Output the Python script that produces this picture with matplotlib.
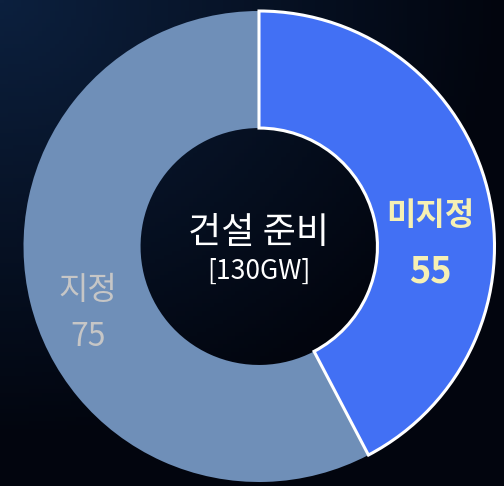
import numpy as np
import matplotlib
matplotlib.use("Agg")
import matplotlib.pyplot as plt

plt.rcParams['font.family'] = ['Noto Sans CJK KR', 'DejaVu Sans']

# data
labels = ["미지정", "지정"]
values = [55, 75]
colors = ["#4270F4", "#6F8FB8"]
label_colors = ["#F6F0B4", "#C6C6C6"]
center_title = "건설 준비"
center_sub = "[130GW]"

fig = plt.figure(figsize=(5.04, 4.86), dpi=100)
ax = fig.add_axes([0, 0, 1, 1])

# dark space-like background gradient
yy, xx = np.mgrid[0:1:120j, 0:1:120j]
d = np.sqrt((xx * 1.0) ** 2 + (yy * 1.1) ** 2)
t = np.clip(d / 1.0, 0, 1)
c0 = np.array([0x0c, 0x20, 0x3e]) / 255.
c1 = np.array([0x02, 0x05, 0x0e]) / 255.
bg = c0[None, None, :] * (1 - t[..., None]) + c1[None, None, :] * t[..., None]
ax.imshow(bg, extent=(0, 504, 0, 486), origin="upper", zorder=0, aspect="auto")

cx, cy, R = 259, 239.5, 235.5
wedges, _ = ax.pie(values, colors=colors, startangle=90, counterclock=False,
                   center=(cx, cy), radius=R,
                   wedgeprops=dict(width=R * 0.497, linewidth=0))
wedges[0].set_edgecolor("white")
wedges[0].set_linewidth(2.2)
wedges[0].set_zorder(3)
wedges[1].set_zorder(2)

ax.set_xlim(0, 504)
ax.set_ylim(0, 486)
ax.set_aspect("auto")
ax.axis("off")

# center text
ax.text(cx, 486 - 233, center_title, color="white", fontsize=26,
        ha="center", va="center", zorder=5)
ax.text(cx, 486 - 271, center_sub, color="white", fontsize=19,
        ha="center", va="center", zorder=5)

# slice labels
ax.text(430, 486 - 216, labels[0], color=label_colors[0], fontsize=23,
        fontweight="bold", ha="center", va="center", zorder=5)
ax.text(430, 486 - 272, str(values[0]), color=label_colors[0], fontsize=26,
        fontweight="bold", ha="center", va="center", zorder=5)
ax.text(88, 486 - 290, labels[1], color=label_colors[1], fontsize=23,
        ha="center", va="center", zorder=5)
ax.text(88, 486 - 337, str(values[1]), color=label_colors[1], fontsize=23,
        ha="center", va="center", zorder=5)

fig.savefig("out.png", dpi=100)
